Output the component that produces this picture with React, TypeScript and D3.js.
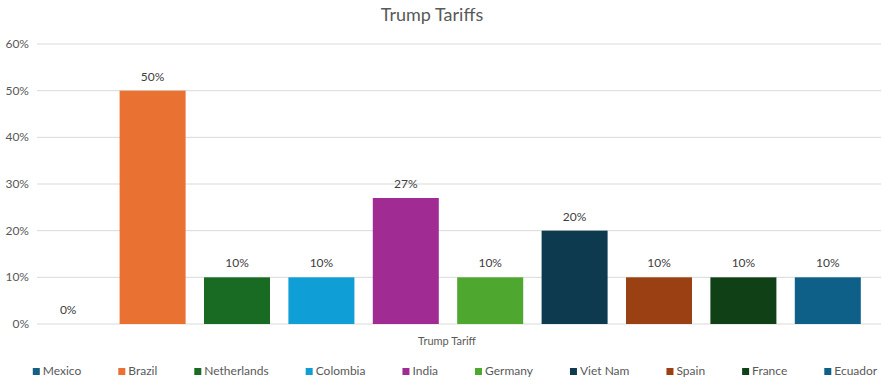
import React, { useRef, useEffect } from "react";
import * as d3 from "d3";

const countries = [
  "Mexico",
  "Brazil",
  "Netherlands",
  "Colombia",
  "India",
  "Germany",
  "Viet Nam",
  "Spain",
  "France",
  "Ecuador",
];
const tariffs = [0, 0.5, 0.1, 0.1, 0.27, 0.1, 0.2, 0.1, 0.1, 0.1];
const colors = [
  "#156082",
  "#E97132",
  "#196B24",
  "#0F9ED5",
  "#A02B93",
  "#4EA72E",
  "#0D3A4F",
  "#9A4013",
  "#104016",
  "#0E6088",
];
const yTicks = [0, 0.1, 0.2, 0.3, 0.4, 0.5, 0.6];
const categoryLabel = "Trump Tariff";
const title = "Trump Tariffs";

const width = 882;
const height = 387;
const font = "Lato, 'Open Sans', sans-serif";
const textColor = "#595959";

const App: React.FC = () => {
  const svgRef = useRef<SVGSVGElement | null>(null);

  useEffect(() => {
    if (!svgRef.current) return;
    const svg = d3.select(svgRef.current);
    svg.selectAll("*").remove();

    const plotLeft = 37;
    const plotRight = 881;

    const y = d3.scaleLinear().domain([0, 0.6]).range([324, 44]);
    const x = d3
      .scaleBand<string>()
      .domain(countries)
      .range([26, 870])
      .paddingInner(0.218)
      .paddingOuter(0.109);

    const fmt = d3.format(".0%");

    // title
    svg
      .append("text")
      .attr("x", 432)
      .attr("y", 21)
      .attr("text-anchor", "middle")
      .attr("font-family", font)
      .attr("font-size", 18)
      .attr("fill", textColor)
      .text(title);

    // gridlines
    svg
      .append("g")
      .selectAll("line")
      .data(yTicks)
      .enter()
      .append("line")
      .attr("x1", plotLeft)
      .attr("x2", plotRight)
      .attr("y1", (d) => y(d))
      .attr("y2", (d) => y(d))
      .attr("stroke", "#D9D9D9")
      .attr("stroke-width", 1);

    // y labels
    svg
      .append("g")
      .selectAll("text")
      .data(yTicks)
      .enter()
      .append("text")
      .attr("x", 29)
      .attr("y", (d) => y(d) + 4)
      .attr("text-anchor", "end")
      .attr("font-family", font)
      .attr("font-size", 12)
      .attr("fill", textColor)
      .text((d) => fmt(d));

    // bars
    svg
      .append("g")
      .selectAll("rect")
      .data(tariffs)
      .enter()
      .append("rect")
      .attr("x", (_, i) => x(countries[i]) as number)
      .attr("width", x.bandwidth())
      .attr("y", (d) => y(d))
      .attr("height", (d) => y(0) - y(d))
      .attr("fill", (_, i) => colors[i]);

    // data labels
    svg
      .append("g")
      .selectAll("text")
      .data(tariffs)
      .enter()
      .append("text")
      .attr("x", (_, i) => (x(countries[i]) as number) + x.bandwidth() / 2)
      .attr("y", (d) => y(d) - 10)
      .attr("text-anchor", "middle")
      .attr("font-family", font)
      .attr("font-size", 12)
      .attr("fill", "#404040")
      .text((d) => fmt(d));

    // category label
    svg
      .append("text")
      .attr("x", 447)
      .attr("y", 345)
      .attr("text-anchor", "middle")
      .attr("font-family", font)
      .attr("font-size", 11)
      .attr("fill", textColor)
      .text(categoryLabel);

    // legend
    const legend = svg.append("g");
    const items = legend
      .selectAll("g")
      .data(countries)
      .enter()
      .append("g");
    items
      .append("rect")
      .attr("width", 7)
      .attr("height", 7)
      .attr("y", -7)
      .attr("fill", (_, i) => colors[i]);
    items
      .append("text")
      .attr("x", 10)
      .attr("font-family", font)
      .attr("font-size", 12)
      .attr("fill", textColor)
      .text((d) => d);

    const gap = 37;
    let cursor = 0;
    const offsets: number[] = [];
    items.each(function () {
      offsets.push(cursor);
      const t = d3.select(this).select("text").node() as SVGTextElement;
      cursor += 10 + t.getComputedTextLength() + gap;
    });
    const total = cursor - gap;
    const start = 455 - total / 2;
    items.attr("transform", (_, i) => `translate(${start + offsets[i]},375)`);
  }, []);

  return (
    <svg
      ref={svgRef}
      width={width}
      height={height}
      style={{ position: "absolute", left: 0, top: 0, background: "#fff" }}
    />
  );
};

export default App;
